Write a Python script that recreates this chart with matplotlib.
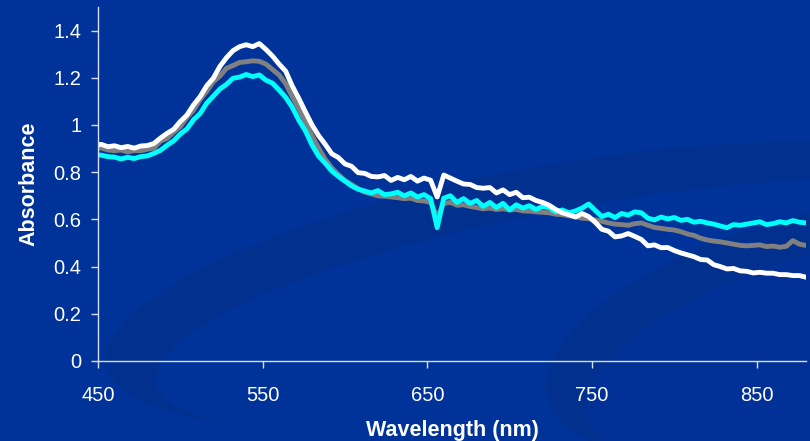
import numpy as np
import matplotlib.pyplot as plt
from matplotlib.patches import Ellipse

# wavelength grid (nm), every 4 nm
wavelength = np.arange(448, 881, 4)

white_series = [
    0.915, 0.918, 0.908, 0.912, 0.904, 0.909, 0.902, 0.911, 0.913, 0.922,
    0.945, 0.965, 0.982, 1.015, 1.042, 1.085, 1.120, 1.166, 1.198, 1.248,
    1.285, 1.315, 1.332, 1.340, 1.332, 1.345, 1.320, 1.292, 1.258, 1.228,
    1.165, 1.112, 1.055, 1.000, 0.955, 0.918, 0.878, 0.862, 0.835, 0.825,
    0.798, 0.795, 0.782, 0.780, 0.786, 0.765, 0.778, 0.768, 0.782, 0.762,
    0.775, 0.766, 0.695, 0.788, 0.775, 0.762, 0.750, 0.748, 0.735, 0.732,
    0.735, 0.712, 0.725, 0.705, 0.715, 0.692, 0.694, 0.680, 0.672, 0.660,
    0.642, 0.628, 0.620, 0.610, 0.625, 0.612, 0.588, 0.558, 0.550, 0.526,
    0.530, 0.540, 0.528, 0.515, 0.488, 0.492, 0.480, 0.481, 0.468, 0.458,
    0.450, 0.442, 0.430, 0.428, 0.408, 0.400, 0.390, 0.392, 0.382, 0.380,
    0.373, 0.376, 0.372, 0.372, 0.366, 0.366, 0.362, 0.362, 0.355,
]

gray_series = [
    0.900, 0.903, 0.894, 0.891, 0.894, 0.886, 0.892, 0.891, 0.897, 0.903,
    0.932, 0.943, 0.970, 0.993, 1.032, 1.062, 1.108, 1.142, 1.183, 1.207,
    1.240, 1.252, 1.265, 1.268, 1.272, 1.270, 1.258, 1.235, 1.212, 1.175,
    1.120, 1.068, 1.012, 0.955, 0.902, 0.855, 0.818, 0.790, 0.765, 0.748,
    0.730, 0.715, 0.708, 0.700, 0.698, 0.695, 0.692, 0.688, 0.690, 0.680,
    0.678, 0.672, 0.610, 0.668, 0.672, 0.660, 0.662, 0.655, 0.650, 0.645,
    0.648, 0.642, 0.645, 0.640, 0.642, 0.636, 0.635, 0.632, 0.630, 0.628,
    0.622, 0.620, 0.615, 0.612, 0.605, 0.603, 0.598, 0.592, 0.585, 0.580,
    0.578, 0.575, 0.582, 0.585, 0.575, 0.566, 0.562, 0.558, 0.555, 0.548,
    0.538, 0.532, 0.520, 0.513, 0.508, 0.505, 0.500, 0.495, 0.490, 0.488,
    0.490, 0.492, 0.485, 0.487, 0.482, 0.486, 0.510, 0.495, 0.490,
]

cyan_series = [
    0.875, 0.872, 0.866, 0.864, 0.856, 0.863, 0.858, 0.866, 0.869, 0.880,
    0.893, 0.914, 0.933, 0.962, 0.983, 1.022, 1.048, 1.092, 1.122, 1.152,
    1.172, 1.198, 1.203, 1.214, 1.205, 1.212, 1.190, 1.177, 1.148, 1.117,
    1.075, 1.020, 0.975, 0.915, 0.868, 0.838, 0.805, 0.782, 0.762, 0.742,
    0.728, 0.720, 0.712, 0.722, 0.705, 0.708, 0.715, 0.700, 0.712, 0.695,
    0.705, 0.688, 0.565, 0.690, 0.700, 0.672, 0.688, 0.668, 0.680, 0.655,
    0.672, 0.650, 0.668, 0.640, 0.662, 0.648, 0.658, 0.642, 0.655, 0.650,
    0.632, 0.640, 0.628, 0.636, 0.648, 0.665, 0.638, 0.612, 0.622, 0.608,
    0.625, 0.618, 0.632, 0.628, 0.605, 0.598, 0.610, 0.602, 0.608, 0.596,
    0.600, 0.588, 0.592, 0.585, 0.580, 0.572, 0.565, 0.578, 0.575, 0.580,
    0.585, 0.590, 0.578, 0.582, 0.590, 0.585, 0.595, 0.588, 0.585,
]

x_ticks = [450, 550, 650, 750, 850]
y_ticks = [0, 0.2, 0.4, 0.6, 0.8, 1, 1.2, 1.4]
y_tick_labels = ["0", "0.2", "0.4", "0.6", "0.8", "1", "1.2", "1.4"]

BG = "#003399"
plt.rcParams["font.family"] = ["Liberation Sans", "DejaVu Sans"]

fig = plt.figure(figsize=(8.1, 4.41), dpi=100, facecolor=BG)

# decorative background swirls (pixel coordinates)
bg = fig.add_axes([0, 0, 1, 1], zorder=0)
bg.set_xlim(0, 810)
bg.set_ylim(441, 0)
bg.axis("off")
bg.add_patch(Ellipse((560, 285), 920, 240, angle=-10, color="#02308f"))
bg.add_patch(Ellipse((600, 305), 900, 200, angle=-10, color=BG))
bg.add_patch(Ellipse((820, 330), 560, 230, angle=-14, color="#02308f"))
bg.add_patch(Ellipse((860, 350), 560, 210, angle=-14, color="#013197"))

ax = fig.add_axes([98 / 810, 80 / 441, 708 / 810, 354 / 441], zorder=1)
ax.set_facecolor("none")

ax.plot(wavelength, gray_series, color="#808080", lw=3.5, solid_joinstyle="round")
ax.plot(wavelength, cyan_series, color="#00ffff", lw=3.5, solid_joinstyle="round")
ax.plot(wavelength, white_series, color="#ffffff", lw=3.5, solid_joinstyle="round")

ax.set_xlim(450, 880)
ax.set_ylim(0, 1.5)
ax.set_xticks(x_ticks)
ax.set_yticks(y_ticks)
ax.set_yticklabels(y_tick_labels)

for side in ["top", "right"]:
    ax.spines[side].set_visible(False)
for side in ["left", "bottom"]:
    ax.spines[side].set_color("#d8dff0")
    ax.spines[side].set_linewidth(1.0)

ax.tick_params(colors="#d8dff0", labelcolor="white", labelsize=14.5,
               direction="out", length=5, width=1)
ax.tick_params(axis="x", pad=13)
ax.tick_params(axis="y", pad=7)

ax.set_xlabel("Wavelength (nm)", color="white", fontsize=15.5, fontweight="bold",
              labelpad=11)
ax.set_ylabel("Absorbance", color="white", fontsize=15.5, fontweight="bold",
              labelpad=10)

fig.savefig("out.png", dpi=100, facecolor=BG)
